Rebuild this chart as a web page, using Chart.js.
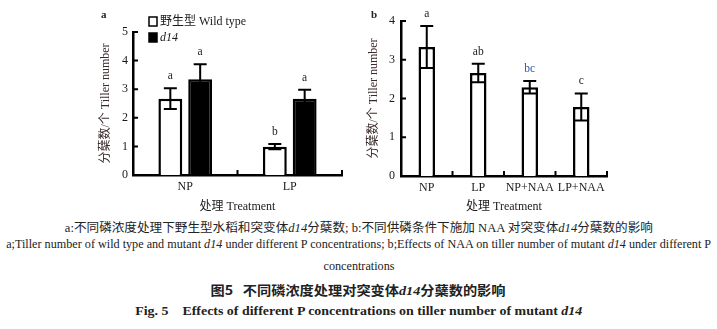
<!DOCTYPE html>
<html>
<head>
<meta charset="utf-8">
<script src="https://cdn.jsdelivr.net/npm/chart.js@4"></script>
<style>
  html, body { margin: 0; padding: 0; background: #fff; }
  #page { position: relative; width: 717px; height: 329px; overflow: hidden; background: #fff; }
  canvas { position: absolute; top: 0; }
  .lbl { position: absolute; font-family: "Liberation Serif", serif; font-weight: bold; font-size: 11px; color: #222; }
  .cap { position: absolute; left: 0; width: 717px; text-align: center; white-space: nowrap; color: #222; }
  .cap span.fit { display: inline-block; transform-origin: 50% 50%; }
  .serif { font-family: "Liberation Serif", "Noto Sans CJK SC", serif; font-size: 12px; }
  .hei { font-family: "Noto Sans CJK SC", sans-serif; font-size: 13px; font-weight: bold; }
  .bold { font-family: "Liberation Serif", serif; font-size: 13.5px; font-weight: bold; }
  i { font-style: italic; font-family: "Liberation Serif", serif; }
</style>
</head>
<body>
<div id="page">
  <div id="boxA" style="position:absolute;left:0;top:0;width:360px;height:215px;"><canvas id="chartA" width="360" height="215"></canvas></div>
  <div id="boxB" style="position:absolute;left:360px;top:0;width:357px;height:215px;"><canvas id="chartB" width="357" height="215"></canvas></div>
  <div class="lbl" style="left:101px;top:8px;">a</div>
  <div class="lbl" style="left:371px;top:8px;">b</div>

  <div class="cap serif" style="top:218px;"><span class="fit" data-w="588">a:不同磷浓度处理下野生型水稻和突变体<i>d14</i>分蘖数; b:不同供磷条件下施加 NAA 对突变体<i>d14</i>分蘖数的影响</span></div>
  <div class="cap serif" style="top:237px;"><span class="fit" data-w="705">a;Tiller number of wild type and mutant <i>d14</i> under different P concentrations; b;Effects of NAA on tiller number of mutant <i>d14</i> under different P</span></div>
  <div class="cap serif" style="top:259px;"><span class="fit" data-w="71">concentrations</span></div>
  <div class="cap hei" style="top:280px;"><span class="fit" data-w="295">图5&nbsp;&nbsp;&nbsp;不同磷浓度处理对突变体<i style="font-weight:bold">d14</i>分蘖数的影响</span></div>
  <div class="cap bold" style="top:303px;"><span class="fit" data-w="447">Fig. 5&nbsp;&nbsp;&nbsp;&nbsp;Effects of different P concentrations on tiller number of mutant <i>d14</i></span></div>
</div>

<script>
// Panel a: wild type vs d14 under two P levels
const treatmentsA = ['NP', 'LP'];
const wildType    = [2.67, 0.99];
const wildTypeErr = [0.36, 0.09];
const wildTypeSig = ['a', 'b'];
const mutantD14    = [3.35, 2.67];
const mutantD14Err = [0.52, 0.31];
const mutantD14Sig = ['a', 'a'];
const ticksA = [0, 1, 2, 3, 4, 5];

// Panel b: d14 with NAA under two P levels
const treatmentsB = ['NP', 'LP', 'NP+NAA', 'LP+NAA'];
const naaValues   = [3.33, 2.66, 2.29, 1.78];
const naaErr      = [0.54, 0.24, 0.16, 0.35];
const naaSig      = ['a', 'ab', 'bc', 'c'];
const naaSigColor = ['#222', '#222', '#2a5aa8', '#222'];
const ticksB = [0, 1, 2, 3, 4];

const SERIF = '"Liberation Serif", "Noto Sans CJK SC", serif';
const INK = '#1a1a1a';

// error bars + significance letters
const errorBarPlugin = {
  id: 'errorBars',
  afterDatasetsDraw(chart) {
    const ctx = chart.ctx;
    const y = chart.scales.y;
    chart.data.datasets.forEach((ds, di) => {
      const meta = chart.getDatasetMeta(di);
      meta.data.forEach((bar, i) => {
        const v = ds.data[i], e = ds.errors[i];
        const yTop = y.getPixelForValue(v + e);
        const yBot = y.getPixelForValue(v - e);
        const cap = 6.5;
        ctx.save();
        ctx.strokeStyle = '#000';
        ctx.lineWidth = 2;
        ctx.beginPath();
        ctx.moveTo(bar.x, yTop); ctx.lineTo(bar.x, yBot);
        ctx.moveTo(bar.x - cap, yTop); ctx.lineTo(bar.x + cap, yTop);
        ctx.moveTo(bar.x - cap, yBot); ctx.lineTo(bar.x + cap, yBot);
        ctx.stroke();
        ctx.fillStyle = (ds.sigColors && ds.sigColors[i]) || '#222';
        ctx.font = '11.5px ' + SERIF;
        ctx.textAlign = 'center';
        ctx.textBaseline = 'middle';
        ctx.fillText(ds.sig[i], bar.x, yTop - 12);
        ctx.restore();
      });
    });
  }
};

// inward tick marks on both axes
const innerTicksPlugin = {
  id: 'innerTicks',
  afterDraw(chart) {
    const ctx = chart.ctx;
    const { x, y } = chart.scales;
    ctx.save();
    ctx.strokeStyle = '#000';
    ctx.lineWidth = 2;
    ctx.beginPath();
    y.ticks.forEach(t => {
      const py = y.getPixelForValue(t.value);
      ctx.moveTo(x.left, py); ctx.lineTo(x.left + 5, py);
    });
    const n = chart.data.labels.length;
    const w = (x.right - x.left) / n;
    for (let i = 0; i < n; i++) {
      const px = x.getPixelForValue(i) + w / 2;
      ctx.moveTo(px, y.bottom); ctx.lineTo(px, y.bottom - 5);
    }
    ctx.stroke();
    ctx.restore();
  }
};

// legend for panel a
const legendPlugin = {
  id: 'boxLegend',
  afterDraw(chart, args, opts) {
    if (!opts.show) return;
    const ctx = chart.ctx;
    ctx.save();
    chart.data.datasets.forEach((ds, i) => {
      const bx = 149, by = 17 + i * 16;
      ctx.fillStyle = ds.backgroundColor;
      ctx.fillRect(bx, by, 8, 9);
      ctx.strokeStyle = '#000';
      ctx.lineWidth = 1.5;
      ctx.strokeRect(bx, by, 8, 9);
      ctx.fillStyle = INK;
      ctx.textBaseline = 'middle';
      ctx.textAlign = 'left';
      ctx.font = (ds.italic ? 'italic ' : '') + '12px ' + SERIF;
      ctx.fillText(ds.label, bx + 11, by + 4.5);
    });
    ctx.restore();
  }
};

function axes(cfg) {
  return {
    x: {
      grid: { display: false, drawTicks: false },
      border: { display: true, color: '#000', width: 2.5 },
      ticks: { color: INK, padding: 5, font: { family: SERIF, size: 12 }, maxRotation: 0, autoSkip: false },
      title: { display: true, text: '处理 Treatment', color: INK, font: { family: SERIF, size: 12 }, padding: { top: 0, bottom: 1 } },
      afterFit(s) { s.height = cfg.xHeight; }
    },
    y: {
      min: 0, max: cfg.max,
      afterBuildTicks(s) { s.ticks = cfg.ticks.map(v => ({ value: v })); },
      grid: { display: false, drawTicks: false },
      border: { display: true, color: '#000', width: 2.5 },
      ticks: { color: INK, padding: cfg.tickPad, font: { family: SERIF, size: 12 } },
      title: { display: true, text: '分蘖数/个 Tiller number', color: '#3a2a2a', font: { family: SERIF, size: 12 }, padding: { top: 0, bottom: 0 } },
      afterFit(s) { s.width = cfg.yWidth; }
    }
  };
}

Chart.defaults.animation = false;

new Chart(document.getElementById('chartA'), {
  type: 'bar',
  data: {
    labels: treatmentsA,
    datasets: [
      { label: '野生型 Wild type', data: wildType, errors: wildTypeErr, sig: wildTypeSig,
        backgroundColor: '#ffffff', borderColor: '#000', borderWidth: 2.5,
        categoryPercentage: 0.571, barPercentage: 0.8 },
      { label: 'd14', italic: true, data: mutantD14, errors: mutantD14Err, sig: mutantD14Sig,
        backgroundColor: '#000000', borderColor: '#000', borderWidth: 2.5,
        categoryPercentage: 0.571, barPercentage: 0.8 }
    ]
  },
  options: {
    responsive: false,
    layout: { padding: { left: 99, top: 32, right: 18, bottom: 0 } },
    plugins: { legend: { display: false }, tooltip: { enabled: false }, boxLegend: { show: true } },
    scales: axes({ max: 5, ticks: ticksA, tickPad: 5, xHeight: 40, yWidth: 34 })
  },
  plugins: [errorBarPlugin, innerTicksPlugin, legendPlugin]
});

new Chart(document.getElementById('chartB'), {
  type: 'bar',
  data: {
    labels: treatmentsB,
    datasets: [
      { label: 'd14', data: naaValues, errors: naaErr, sig: naaSig, sigColors: naaSigColor,
        backgroundColor: '#ffffff', borderColor: '#000', borderWidth: 2.5,
        categoryPercentage: 0.8, barPercentage: 0.4 }
    ]
  },
  options: {
    responsive: false,
    layout: { padding: { left: 7, top: 21, right: 110, bottom: 0 } },
    plugins: { legend: { display: false }, tooltip: { enabled: false }, boxLegend: { show: false } },
    scales: axes({ max: 4, ticks: ticksB, tickPad: 6, xHeight: 39, yWidth: 34 })
  },
  plugins: [errorBarPlugin, innerTicksPlugin, legendPlugin]
});

// squeeze caption lines to their set widths
function fitCaptions() {
  document.querySelectorAll('.cap span.fit').forEach(sp => {
    sp.style.transform = 'none';
    const w = sp.getBoundingClientRect().width;
    const target = +sp.dataset.w;
    if (w > 0) sp.style.transform = 'scaleX(' + (target / w).toFixed(4) + ')';
  });
}
fitCaptions();
if (document.fonts && document.fonts.ready) document.fonts.ready.then(fitCaptions);
</script>
</body>
</html>
